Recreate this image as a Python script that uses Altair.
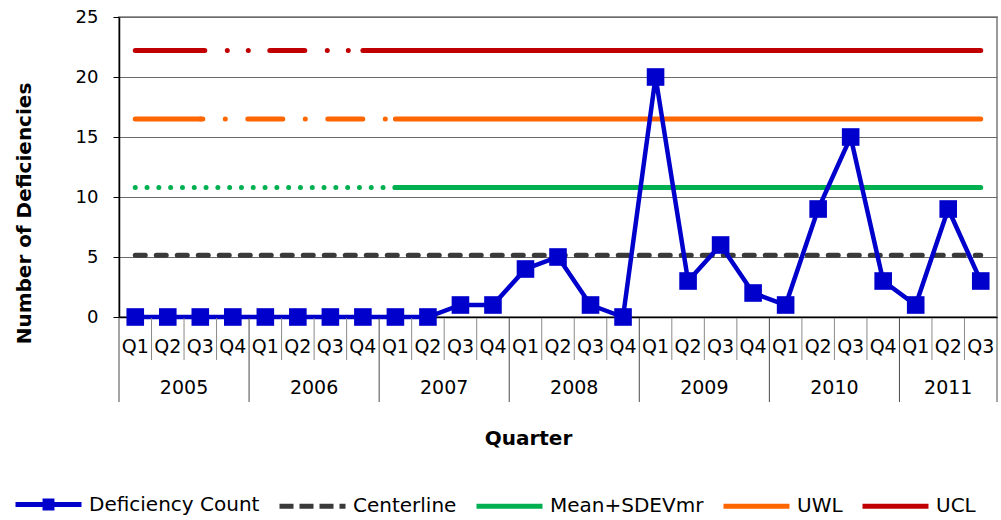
import altair as alt
import pandas as pd

# Quarterly deficiency counts, 2005 Q1 - 2011 Q3
years = ["2005", "2006", "2007", "2008", "2009", "2010", "2011"]
quarters_per_year = [4, 4, 4, 4, 4, 4, 3]
quarter_labels = ["Q1", "Q2", "Q3", "Q4"] * 6 + ["Q1", "Q2", "Q3"]
deficiency_count = [0, 0, 0, 0,
                    0, 0, 0, 0,
                    0, 0, 1, 1,
                    4, 5, 1, 0,
                    20, 3, 6, 2,
                    1, 9, 15, 3,
                    1, 9, 3]

# Control-chart reference levels
centerline = 5.15
mean_plus_sdevmr = 10.8
uwl = 16.5
ucl = 22.2

series_names = ["Deficiency Count", "Centerline", "Mean+SDEVmr", "UWL", "UCL"]
series_colors = ["#0000CC", "#3A3A3A", "#00B050", "#FF6600", "#C00000"]

# Line style of each stretch of the reference lines (first/last quarter index)
limit_lines = [
    ("Centerline", centerline, [(0, 26, "dash")]),
    ("Mean+SDEVmr", mean_plus_sdevmr, [(0, 8, "dot"), (8, 26, "solid")]),
    ("UWL", uwl, [(0, 2, "solid"), (2, 8, "dash-dot"), (8, 26, "solid")]),
    ("UCL", ucl, [(0, 2, "solid"), (2, 7, "dash-dot-dot"), (7, 26, "solid")]),
]
dash_styles = {
    "solid": [1, 0],
    "dash": [10, 11],
    "dot": [0, 11.8],
    "dash-dot": [2.5, 22.5, 0, 22.5, 32.5, 0],
    "dash-dot-dot": [4.5, 22.5, 0, 21, 0, 21.5, 30.5, 0],
}

n = len(deficiency_count)
counts = pd.DataFrame({"x": list(range(n)), "value": deficiency_count,
                       "series": "Deficiency Count"})

rows = []
for name, level, segments in limit_lines:
    for k, (a, b, style) in enumerate(segments):
        for i in range(a, b + 1):
            rows.append({"x": i, "value": level, "series": name,
                         "style": style, "segment": f"{name}-{k}"})
limits = pd.DataFrame(rows)

# Two-level category axis: quarter labels, year labels and separators
starts = []
s = 0
for c in quarters_per_year:
    starts.append(s)
    s += c
year_centers = [st + (c - 1) / 2 for st, c in zip(starts, quarters_per_year)]
year_bounds = [st - 0.5 for st in starts] + [n - 0.5]
quarter_bounds = [i + 0.5 for i in range(n - 1) if (i + 0.5) not in year_bounds]

quarter_df = pd.DataFrame({"x": list(range(n)), "label": quarter_labels})
year_df = pd.DataFrame({"x": year_centers, "label": years})
qsep_df = pd.DataFrame({"x": quarter_bounds})
ysep_df = pd.DataFrame({"x": year_bounds})

FONT = "DejaVu Sans"

x_scale = alt.Scale(domain=[-0.5, n - 0.5], nice=False, zero=False)
y_scale = alt.Scale(domain=[0, 25], nice=False, zero=True)

x_axis = alt.Axis(title="Quarter", labels=False, ticks=False, grid=False,
                  domain=True, domainColor="black", domainWidth=1.5,
                  titleFont=FONT, titleFontSize=20, titleFontWeight="bold",
                  titleColor="black", titleX=409, titleY=121,
                  titleBaseline="middle", titleAlign="center")
y_axis = alt.Axis(title="Number of Deficiencies", values=[0, 5, 10, 15, 20, 25],
                  grid=True, gridColor="#6a6a6a", gridWidth=1,
                  domainColor="black", domainWidth=1.5,
                  tickColor="black", tickSize=6, tickWidth=1,
                  labelFont=FONT, labelFontSize=18, labelColor="black",
                  labelPadding=15,
                  titleFont=FONT, titleFontSize=20, titleFontWeight="bold",
                  titleColor="black", titleX=-89, titleY=196, titleAngle=270,
                  titleBaseline="alphabetic", titleAlign="center")

X = alt.X("x:Q", scale=x_scale, axis=x_axis)
Y = alt.Y("value:Q", scale=y_scale, axis=y_axis)

# Legend symbols: line with a square marker for the counts, a dashed line
# for the centerline, plain lines for the limits.
legend = alt.Legend(
    title=None, orient="none", direction="horizontal", columns=5,
    legendX=-106, legendY=452, padding=0, offset=0,
    symbolType={"expr": "datum.value === 'Deficiency Count' ? "
                        "'M-1,0H1M-0.105,-0.105H0.105V0.105H-0.105Z' : 'stroke'"},
    symbolDash={"expr": "datum.value === 'Centerline' ? [14, 6] : [1, 0]"},
    symbolFillColor={"expr": "datum.value === 'Deficiency Count' ? "
                             "'#0000CC' : 'transparent'"},
    symbolSize=4356, symbolStrokeWidth=5, symbolOpacity=1,
    labelFont=FONT, labelFontSize=20, labelColor="black", labelOffset=5,
    labelLimit=0, columnPadding=9,
)

color = alt.Color("series:N",
                  scale=alt.Scale(domain=series_names, range=series_colors),
                  legend=legend)

limit_layer = alt.Chart(limits).mark_line(strokeWidth=5, strokeCap="round").encode(
    x=X, y=Y, color=color,
    strokeDash=alt.StrokeDash("style:N",
                              scale=alt.Scale(domain=list(dash_styles.keys()),
                                              range=list(dash_styles.values())),
                              legend=None),
    detail="segment:N",
)

count_line = alt.Chart(counts).mark_line(strokeWidth=4.5).encode(
    x=X, y=Y, color=color)
count_marks = alt.Chart(counts).mark_point(shape="square", filled=True,
                                           size=310, opacity=1).encode(
    x=X, y=Y, color=color)

quarter_text = alt.Chart(quarter_df).mark_text(
    font=FONT, fontSize=19, color="black", align="center", baseline="middle"
).encode(x=X, y=alt.value(330), text="label:N")
year_text = alt.Chart(year_df).mark_text(
    font=FONT, fontSize=19, color="black", align="center", baseline="middle"
).encode(x=X, y=alt.value(371), text="label:N")

qsep = alt.Chart(qsep_df).mark_rule(color="#8a8a8a", strokeWidth=1).encode(
    x=X, y=alt.value(301), y2=alt.value(343))
ysep = alt.Chart(ysep_df).mark_rule(color="#4a4a4a", strokeWidth=1).encode(
    x=X, y=alt.value(301), y2=alt.value(385))

chart = alt.layer(
    limit_layer, count_line, count_marks, qsep, ysep, quarter_text, year_text
).properties(
    width=878, height=300,
    autosize=alt.AutoSizeParams(type="none"),
    padding={"left": 119, "top": 17, "right": 4, "bottom": 203},
    background="white",
).configure(font=FONT).configure_view(stroke="#9a9a9a", strokeWidth=2)

chart.save("out.html", embed_options={"renderer": "svg", "actions": False})
